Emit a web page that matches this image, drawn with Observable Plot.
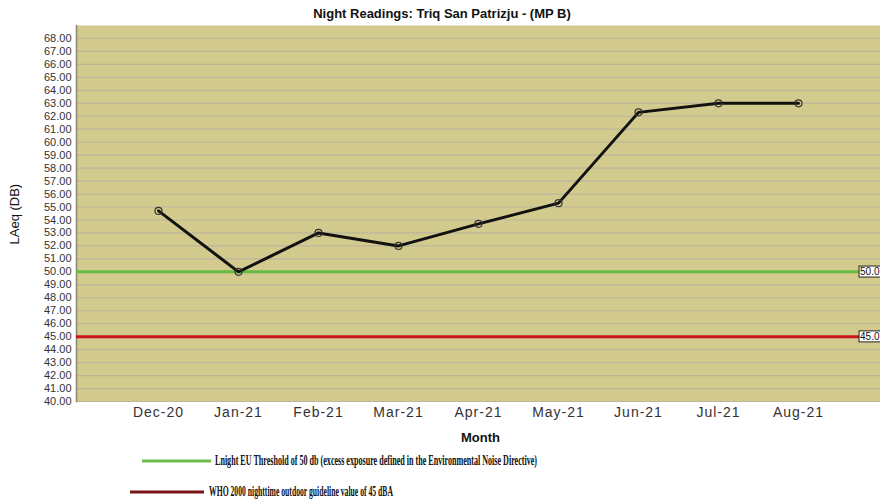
<!DOCTYPE html>
<html>
<head>
<meta charset="utf-8">
<script src="https://cdn.jsdelivr.net/npm/d3@7"></script>
<script src="https://cdn.jsdelivr.net/npm/@observablehq/plot@0.6"></script>
<style>
  body { margin: 0; background: #fff; font-family: "Liberation Sans", Arial, sans-serif; }
  #wrap { width: 880px; height: 503px; position: relative; overflow: hidden; }
  #title { height: 25px; line-height: 28px; font-size: 13px; font-weight: bold; color: #111; text-align: center; padding-left: 4px; box-sizing: border-box; }
  #chart svg { display: block; overflow: visible; }
  #legend { display: block; }
</style>
</head>
<body>
<div id="wrap">
  <div id="title">Night Readings: Triq San Patrizju - (MP B)</div>
  <div id="chart"></div>
  <svg id="legend" width="880" height="53"></svg>
</div>
<script>
const months = ["Dec-20", "Jan-21", "Feb-21", "Mar-21", "Apr-21", "May-21", "Jun-21", "Jul-21", "Aug-21"];
const laeq = [54.7, 50.0, 53.0, 52.0, 53.7, 55.3, 62.3, 63.0, 63.0];
const thresholdValues = [50, 45];
const thresholdLabels = ["50.0", "45.0"];
const thresholdColors = ["#66bb44", "#c8141c"];
const legendTexts = [
  "Lnight EU Threshold of 50 db (excess exposure defined in the Environmental Noise Directive)",
  "WHO 2000 nighttime outdoor guideline value of 45 dBA"
];
const legendColors = ["#6cbf4c", "#7a1418"];
const yTicks = d3.range(40, 69);

const data = months.map((m, i) => ({month: m, value: laeq[i]}));
const thresholds = thresholdValues.map((v, i) => ({value: v, label: thresholdLabels[i], color: thresholdColors[i]}));

const bg = "#d3ca8e";
const grid = "#bbb69c";

const plot = Plot.plot({
  width: 880,
  height: 425,
  marginLeft: 76,
  marginRight: 0,
  marginTop: 0,
  marginBottom: 49,
  style: {fontFamily: "'Liberation Sans', Arial, sans-serif", color: "#333", background: "transparent"},
  x: {type: "point", domain: months, padding: 1},
  y: {domain: [40, 69]},
  marks: [
    Plot.frame({fill: bg, stroke: null}),
    Plot.ruleY(yTicks, {stroke: grid, strokeWidth: 1.2}),
    Plot.frame({anchor: "left", stroke: "#8a876f", strokeWidth: 1.5}),
    Plot.axisY({ticks: yTicks, tickFormat: d => d.toFixed(2), tickSize: 0, tickPadding: 5, fontSize: 11, label: null}),
    Plot.axisX({tickSize: 0, tickPadding: 6, fontSize: 14, label: null, fill: "#333"}),
    Plot.text(["LAeq (DB)"], {frameAnchor: "left", dx: -62, dy: 31, rotate: -90, fontSize: 13, fill: "#111"}),
    Plot.text(["Month"], {frameAnchor: "bottom", dx: 2, dy: 40, fontSize: 13, fontWeight: "bold", fill: "#111"}),
    Plot.ruleY(thresholds, {y: "value", stroke: "color", strokeWidth: 3}),
    Plot.line(data, {x: "month", y: "value", stroke: "#111", strokeWidth: 3}),
    Plot.dot(data, {x: "month", y: "value", r: 3.5, stroke: "#333", strokeWidth: 1.2, fill: "none"}),
    Plot.text(thresholds, {y: "value", text: "label", frameAnchor: "right", textAnchor: "end", dx: -1, fontSize: 10, fill: "#111"})
  ]
});
document.getElementById("chart").appendChild(plot);

// wider spacing on month tick labels
d3.select(plot).selectAll('g[aria-label="x-axis tick label"]').attr("letter-spacing", "1px");

// boxes behind the reference line labels
d3.select(plot).selectAll("text").filter(function() {
  return thresholdLabels.includes(this.textContent) && this.parentNode.tagName.toLowerCase() === "g" && this.parentNode.getAttribute("aria-label") === "text";
}).each(function() {
  const b = this.getBBox();
  const t = this.getAttribute("transform");
  const rect = document.createElementNS("http://www.w3.org/2000/svg", "rect");
  if (t) rect.setAttribute("transform", t);
  rect.setAttribute("x", b.x - 1);
  rect.setAttribute("y", b.y);
  rect.setAttribute("width", b.width + 4);
  rect.setAttribute("height", b.height);
  rect.setAttribute("fill", "#fff");
  rect.setAttribute("stroke", "#222");
  rect.setAttribute("stroke-width", 1);
  this.parentNode.insertBefore(rect, this);
});

// legend
const lg = d3.select("#legend");
const rows = [
  {x1: 142, x2: 211, y: 11, tx: 215, len: 322},
  {x1: 130, x2: 204, y: 42, tx: 209, len: 184}
];
rows.forEach((r, i) => {
  lg.append("line").attr("x1", r.x1).attr("x2", r.x2).attr("y1", r.y).attr("y2", r.y)
    .attr("stroke", legendColors[i]).attr("stroke-width", 3);
  lg.append("text").attr("x", r.tx).attr("y", r.y + 4)
    .attr("font-family", "'Liberation Serif', 'Times New Roman', serif")
    .attr("font-weight", "bold").attr("font-size", 14)
    .attr("textLength", r.len).attr("lengthAdjust", "spacingAndGlyphs")
    .attr("fill", "#111")
    .text(legendTexts[i]);
});
</script>
</body>
</html>
